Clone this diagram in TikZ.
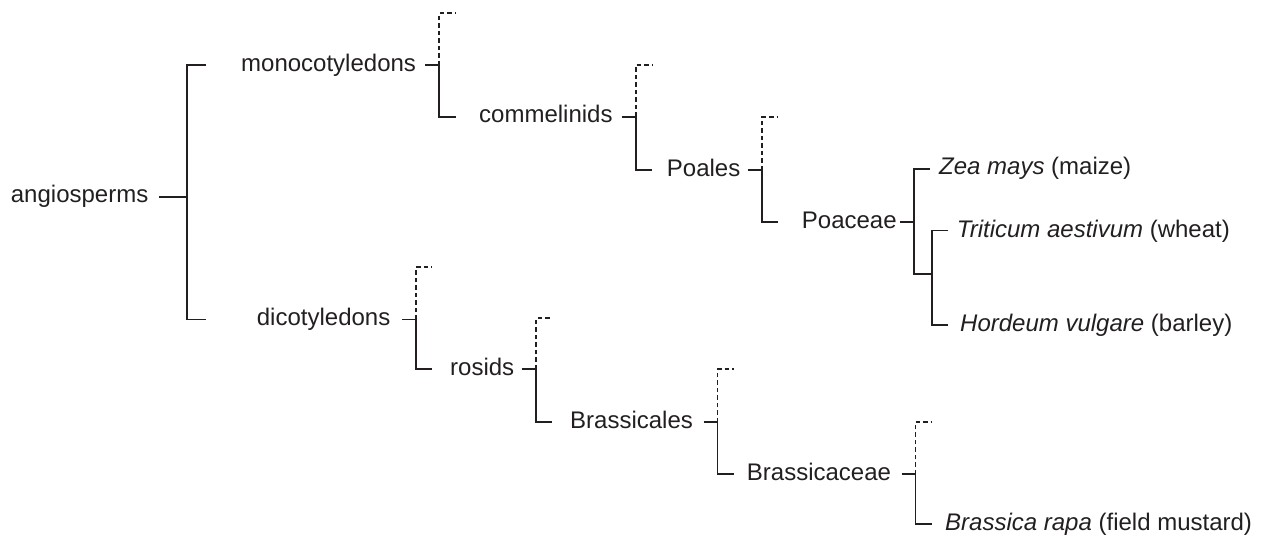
\documentclass[tikz,border=0pt]{standalone}
\usepackage{fontspec}
\setmainfont{Liberation Sans}
\definecolor{ink}{RGB}{35,31,32}
\begin{document}
\begin{tikzpicture}[x=1pt,y=-1pt,
  lab/.style={anchor=west,inner sep=0pt,text height=12.5pt,text depth=0pt,
    font=\fontsize{24}{28}\selectfont,text=ink},
  br/.style={draw=ink,line width=1.9pt,line cap=butt,line join=miter},
  dsh/.style={draw=ink,line width=1.9pt,dash pattern=on 4.5pt off 3pt}]
\useasboundingbox (0,0) rectangle (1265,539);
% labels
\node[lab] (ang)  at (10.7,196.7) {angiosperms};
\node[lab] (mono) at (241,65) {monocotyledons};
\node[lab] (dico) at (256.7,319.5) {dicotyledons};
\node[lab] (comm) at (479,116.7) {commelinids};
\node[lab] (poal) at (666.7,170) {Poales};
\node[lab] (poac) at (801.7,222) {Poaceae};
\node[lab] (zea)  at (939,168) {\itshape Zea mays\upshape\ (maize)};
\node[lab] (trit) at (956.7,231) {\itshape Triticum aestivum\upshape\ (wheat)};
\node[lab] (hord) at (960,325) {\itshape Hordeum vulgare\upshape\ (barley)};
\node[lab] (ros)  at (450,369) {rosids};
\node[lab] (bral) at (570,422.3) {Brassicales};
\node[lab] (brac) at (746.7,474.3) {Brassicaceae};
\node[lab] (bra)  at (945,524) {\itshape Brassica rapa\upshape\ (field mustard)};
% junctions
\coordinate (jang)  at (187,196.7);
\coordinate (jmono) at (439,65);
\coordinate (jcomm) at (635.7,116.7);
\coordinate (jpoal) at (761.7,170);
\coordinate (jpoac) at (914.3,222);
\coordinate (jin)   at (931.7,274);
\coordinate (jdico) at (416,319.5);
\coordinate (jros)  at (535.7,369);
\coordinate (jbral) at (717.5,422.3);
\coordinate (jbrac) at (915.5,474.3);
% arm ends
\coordinate (aang1) at (206,65);     \coordinate (aang2) at (206,319.5);
\coordinate (tmono) at (455.7,13.3); \coordinate (amono) at (455.7,116.7);
\coordinate (tcomm) at (652.3,65);   \coordinate (acomm) at (652.3,170);
\coordinate (tpoal) at (777.7,117.3);\coordinate (apoal) at (777.7,222);
\coordinate (apoac) at (930,169);
\coordinate (ain1)  at (948.3,230.5);\coordinate (ain2)  at (948.3,325);
\coordinate (tdico) at (432.3,267.3);\coordinate (adico) at (432.3,369);
\coordinate (tros)  at (552.3,318.3);\coordinate (aros)  at (552.3,422.3);
\coordinate (tbral) at (733.5,369.3);\coordinate (abral) at (733.5,474.3);
\coordinate (tbrac) at (931.7,422);  \coordinate (abrac) at (931.7,524);
% stubs (label -> junction)
\draw[br] ([xshift=-28pt]jang) -- (jang);
\foreach \j in {jmono,jcomm,jpoal,jpoac,jdico,jros,jbral,jbrac}
  \draw[br] ([xshift=-14pt]\j) -- (\j);
% brackets
\draw[br] (aang1) -| (jang) |- (aang2);
\draw[dsh] (jmono) |- (tmono);  \draw[br] (jmono) |- (amono);
\draw[dsh] (jcomm) |- (tcomm);  \draw[br] (jcomm) |- (acomm);
\draw[dsh] (jpoal) |- (tpoal);  \draw[br] (jpoal) |- (apoal);
\draw[br] (apoac) -| (jpoac |- jin) -- (jin);
\draw[br] (ain1) -| (jin) |- (ain2);
\draw[dsh] (jdico) |- (tdico);  \draw[br] (jdico) |- (adico);
\draw[dsh] (jros) |- (tros);    \draw[br] (jros) |- (aros);
\draw[dsh] (jbral) |- (tbral);  \draw[br] (jbral) |- (abral);
\draw[dsh] (jbrac) |- (tbrac);  \draw[br] (jbrac) |- (abrac);
\end{tikzpicture}
\end{document}
